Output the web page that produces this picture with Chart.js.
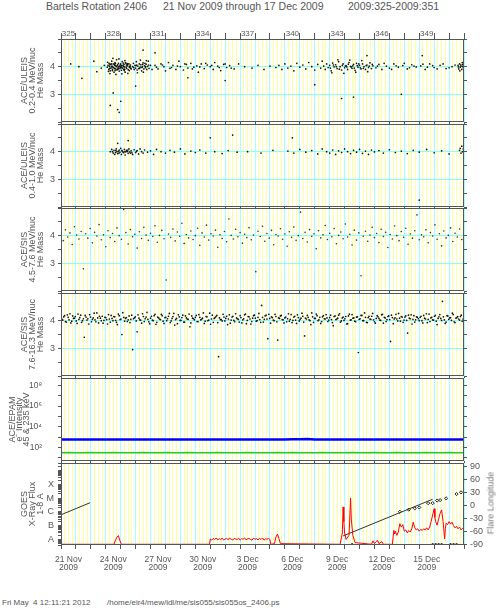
<!DOCTYPE html>
<html>
<head>
<meta charset="utf-8">
<script src="https://cdn.jsdelivr.net/npm/chart.js@4.4.0/dist/chart.umd.min.js"></script>
<style>
  body { margin: 0; background: #fff; }
  #wrap { position: relative; width: 498px; height: 611px; overflow: hidden; font-family: "Liberation Sans", sans-serif; color: #555; }
  #wrap canvas { position: absolute; left: 0; }
  .txt { position: absolute; white-space: pre; line-height: 1; }
</style>
</head>
<body>
<div id="wrap">
  <div class="txt" style="left:46px;top:1px;font-size:10.5px">Bartels Rotation 2406</div>
  <div class="txt" style="left:163px;top:1px;font-size:10.5px">21 Nov 2009 through 17 Dec 2009</div>
  <div class="txt" style="left:348px;top:1px;font-size:10.5px">2009:325-2009:351</div>

  <canvas id="c1" width="498" height="107" style="top:20px"></canvas>
  <canvas id="c2" width="498" height="92" style="top:120px"></canvas>
  <canvas id="c3" width="498" height="92" style="top:204px"></canvas>
  <canvas id="c4" width="498" height="92" style="top:289px"></canvas>
  <canvas id="c5" width="498" height="92" style="top:374px"></canvas>
  <canvas id="c6" width="498" height="117" style="top:458px"></canvas>

  <div class="txt" style="left:491px;top:503px;font-size:9px;color:#777;transform:translate(-50%,-50%) rotate(-90deg)">Flare Longitude</div>

  <div class="txt" style="left:2px;top:599px;font-size:8px">Fri May  4 12:11:21 2012</div>
  <div class="txt" style="left:107px;top:599px;font-size:8px">/home/eir4/mew/idl/me/sis055/sis055os_2406.ps</div>
</div>

<script>
//tick labels
var labelDays = [325.5, 328.5, 331.5, 334.5, 337.5, 340.5, 343.5, 346.5, 349.5];
var doyLabels = ['325', '328', '331', '334', '337', '340', '343', '346', '349'];
var dateLabels = ['21 Nov', '24 Nov', '27 Nov', '30 Nov', '3 Dec', '6 Dec', '9 Dec', '12 Dec', '15 Dec'];
var yearLabel = '2009';
var goesLetters = {'-8': 'A', '-7': 'B', '-6': 'C', '-5': 'M', '-4': 'X'};
var epamLabels = {'2': '10\u00b2', '4': '10\u2074', '6': '10\u2076', '8': '10\u2078'};

//panel titles
var titleP1 = ['ACE/ULEIS', '0.2-0.4 MeV/nuc', 'He Mass'];
var titleP2 = ['ACE/ULEIS', '0.4-1.0 MeV/nuc', 'He Mass'];
var titleP3 = ['ACE/SIS', '4.5-7.6 MeV/nuc', 'He Mass'];
var titleP4 = ['ACE/SIS', '7.6-16.3 MeV/nuc', 'He Mass'];
var titleP5 = ['ACE/EPAM', 'e\u207b Intensity', '45 & 235 keV'];
var titleP6 = ['GOES', 'X-Ray Flux', '1-8 A'];

//ULEIS 0.2-0.4 MeV/nuc [day, mass]
var uleisLow = [
  [325.65,4.10],[326.2,4.0],[326.4,3.58],[327.4,3.82],[327.7,3.95],[327.9,4.05],[327.2,4.2],
  [328.1,3.98],[328.15,4.05],[328.2,3.9],[328.22,4.12],[328.25,4.0],[328.3,3.85],[328.32,4.08],[328.35,3.95],
  [328.4,4.2],[328.42,4.02],[328.45,3.9],[328.5,4.1],[328.52,3.97],[328.55,3.8],[328.6,4.05],[328.62,4.15],
  [328.65,3.92],[328.7,4.0],[328.72,4.25],[328.75,3.88],[328.8,4.07],[328.82,3.96],[328.85,4.12],[328.9,3.84],
  [328.92,4.02],[328.95,3.93],[329.0,4.1],[329.02,4.0],[329.05,3.87],[329.1,4.18],[329.12,3.95],[329.15,4.05],
  [329.2,3.9],[329.22,4.08],[329.25,3.99],[329.3,3.8],[329.35,4.12],[329.4,3.94],[329.45,4.03],[329.5,3.89],
  [329.55,4.1],[329.6,3.97],[329.65,4.06],[329.7,3.92],[328.28,3.75],[328.48,4.3],[328.68,3.72],[328.88,4.28],
  [329.08,3.74],[329.28,4.22],[329.48,3.76],[328.38,4.0],[328.58,3.94],[328.78,4.03],[328.98,3.98],[329.18,4.01],
  [329.38,4.06],[329.58,3.86],[328.18,3.83],[328.62,3.86],[329.32,4.15],
  [328.12,4.16],[328.27,3.93],[328.37,4.1],[328.47,3.99],[328.57,4.09],[328.67,4.04],[328.77,3.91],[328.87,3.99],
  [328.97,4.07],[329.07,3.96],[329.17,4.13],[329.27,3.91],[329.37,3.98],[329.47,4.11],[329.57,4.0],[329.67,3.95],
  [328.24,4.06],[328.44,3.86],[328.64,4.11],[328.84,3.92],[329.04,4.04],[329.24,3.86],[329.44,4.08],[329.64,4.02],
  [329.8,4.0],[329.85,4.12],[329.9,3.9],[329.95,4.05],[330.0,3.95],[330.05,4.18],[330.1,3.88],[330.15,4.02],
  [330.2,3.93],[330.25,4.1],[330.3,3.98],[330.35,4.07],[330.4,3.85],[330.45,4.0],[330.5,4.14],[330.55,3.92],
  [330.6,4.03],[330.65,3.96],[330.7,4.09],[330.75,3.9],[330.8,4.01],[330.85,4.2],[330.9,3.94],[331.0,4.05],
  [331.1,3.9],[330.12,3.78],[330.32,4.24],[330.52,3.8],[330.72,4.22],[330.02,4.04],[330.42,3.97],[330.62,4.12],
  [329.87,3.97],[330.07,4.06],[330.27,3.94],[330.47,4.08],[330.67,4.0],[330.87,4.06],
  [331.3,4.05],[331.5,3.92],[331.7,4.1],[331.9,4.0],[332.0,3.85],[332.2,4.15],[332.4,3.97],[332.5,4.05],
  [332.7,3.9],[332.9,4.2],[333.0,4.0],[333.2,3.88],[333.4,4.08],[333.5,3.95],[333.7,4.12],[333.9,3.98],
  [334.1,4.03],[334.2,3.8],[334.4,4.1],[334.6,3.93],[334.8,4.06],[335.0,4.0],[335.2,3.9],[335.3,4.15],
  [335.5,4.02],[335.7,3.86],[335.9,4.08],[336.1,3.97],[336.3,4.04],[336.6,3.92],[336.9,4.1],
  [331.4,3.98],[331.8,4.06],[332.3,3.94],[332.8,4.02],[333.3,4.1],[333.8,3.92],[334.3,3.99],[334.7,4.12],
  [335.1,4.05],[335.6,3.97],[336.0,4.1],[336.4,3.95],
  [337.3,4.0],[337.8,3.95],[338.2,4.05],[338.6,3.9],[339.0,4.02],[339.4,3.97],
  [339.6,4.05],[339.8,3.9],[340.0,4.1],[340.2,3.95],[340.4,4.02],[340.6,3.85],[340.8,4.12],[341.0,3.98],
  [341.2,4.06],[341.4,3.92],[341.6,4.15],[341.8,4.0],[342.0,3.88],[342.2,4.08],[342.4,3.95],[342.5,4.2],
  [342.6,4.02],[342.7,3.9],[342.8,4.1],[342.9,3.97],[343.0,4.05],[343.1,3.85],[343.2,4.13],[343.3,3.99],
  [343.4,4.07],[343.5,3.93],[343.6,4.18],[343.7,4.0],[343.8,3.88],[343.9,4.1],[344.0,3.96],[344.1,4.04],
  [344.2,3.9],[344.3,4.15],[344.4,4.01],[344.5,3.94],[344.6,4.08],[344.7,3.87],[344.8,4.12],[344.9,3.98],
  [345.0,4.05],[345.1,3.92],[345.2,4.1],[345.3,4.0],[345.4,3.9],[345.5,4.06],[345.6,3.97],[345.7,4.14],
  [345.8,3.93],[345.9,4.03],[343.15,3.78],[343.55,4.25],[343.95,3.76],[344.35,4.24],[344.75,3.8],[345.15,4.22],
  [345.55,3.82],[344.05,4.02],[344.45,3.99],[344.85,4.04],
  [343.05,3.95],[343.25,4.06],[343.45,4.0],[343.65,3.91],[343.85,4.05],[344.15,3.99],[344.25,4.09],[344.55,4.03],
  [344.65,3.95],[344.95,4.1],[345.05,3.96],[345.25,3.94],[345.45,4.04],[345.65,4.02],[345.85,4.08],
  [346.1,3.96],[346.3,4.08],[346.5,3.9],[346.8,4.02],[347.0,3.95],[347.3,4.1],[347.6,3.98],[347.9,4.04],
  [348.2,3.92],[348.5,4.07],[348.8,3.99],[349.1,4.03],[349.4,3.9],[349.7,4.1],[350.0,3.97],[350.4,4.05],
  [350.8,3.93],[351.2,4.0],[346.2,4.02],[346.65,4.12],[347.15,3.9],[347.45,4.03],[348.0,4.12],[348.35,3.96],
  [348.65,4.02],[349.25,4.09],[349.55,3.98],[349.9,4.04],[350.2,3.92],[350.6,4.1],[351.0,3.96],[351.4,4.06],
  [351.6,4.05],[351.65,3.92],[351.7,4.1],[351.75,3.98],[351.8,4.02],[351.85,3.9],[351.9,4.08],[351.95,3.96],
  [351.72,3.85],[351.88,4.15],[351.62,3.99],[351.78,4.06],[351.92,4.01],
  [328.3,2.6],[328.8,2.45],[329.0,2.75],[328.5,3.05],[328.9,2.35],[330.0,3.3],[330.5,4.6],[331.3,4.5],
  [336.0,3.5],[342.0,3.35],[343.8,2.85],[344.6,2.9],[347.8,3.0],[349.2,4.4],[345.5,4.4],[333.5,3.6]
];

//ULEIS 0.4-1.0 MeV/nuc [day, mass]
var uleisHigh = [
  [328.3,4.0],[328.4,4.08],[328.5,3.95],[328.55,4.05],[328.6,3.9],[328.7,4.1],[328.75,4.0],[328.8,3.93],
  [328.9,4.06],[328.95,3.98],[329.0,4.12],[329.05,3.9],[329.1,4.02],[329.2,3.96],[329.25,4.08],[329.3,3.88],
  [329.35,4.0],[329.4,4.05],[329.5,3.94],[329.55,4.1],[329.6,3.99],[329.7,4.03],[329.8,3.9],[329.9,4.07],
  [330.0,3.97],[330.1,4.04],[330.2,3.92],[330.3,4.1],[330.4,4.0],[330.5,3.95],[330.6,4.06],[330.8,3.98],
  [331.0,4.03],[331.2,3.9],[331.4,4.08],[328.65,3.97],[328.85,4.02],[329.15,3.99],[329.45,4.01],[329.65,3.95],
  [328.45,4.0],[328.68,4.04],[328.88,3.95],[329.08,4.05],[329.28,4.0],[329.48,4.06],[329.75,3.96],[330.05,4.01],
  [331.7,4.0],[332.0,3.95],[332.3,4.05],[332.6,3.98],[333.0,4.1],[333.3,3.92],[333.7,4.02],[334.0,3.97],
  [334.3,4.06],[334.7,3.95],[335.0,4.5],[335.3,4.0],[335.8,3.93],[336.2,4.04],[336.8,3.98],
  [337.5,4.0],[338.4,3.95],[339.2,4.05],
  [340.2,4.02],[340.6,3.95],[341.0,4.08],[341.4,3.98],[341.8,4.04],[342.2,3.92],[342.5,4.1],[342.8,4.0],
  [343.0,3.95],[343.2,4.06],[343.4,3.9],[343.6,4.03],[343.8,3.97],[344.0,4.1],[344.2,4.0],[344.4,3.93],
  [344.6,4.05],[344.8,3.98],[345.0,4.08],[345.2,3.94],[345.4,4.02],[345.6,3.9],[345.8,4.06],[346.0,3.99],
  [346.3,4.04],[346.6,3.95],[347.0,4.07],[347.4,3.97],[347.8,4.02],[348.2,3.93],[348.6,4.05],[349.0,3.98],
  [349.5,4.08],[350.0,3.96],[350.5,4.03],[351.0,3.92],
  [351.7,4.05],[351.75,4.12],[351.8,3.95],[351.85,4.2],[351.9,4.0],[351.95,4.1],
  [329.5,4.4],[328.8,4.3],[336.5,4.6],[349.0,2.25],[340.5,4.5]
];

//SIS 4.5-7.6 MeV/nuc, one sample every sisStep3 days from day 325
var sisStep3 = 0.15;
var sisMass3 = [
  4.05,3.82,4.21,3.95,4.10,3.68,4.32,4.02,3.88,4.15,2.80,4.07,3.91,4.26,3.74,4.12,3.99,4.40,3.85,4.03,
  3.60,4.18,3.93,4.08,3.79,4.28,4.00,3.87,4.95,4.11,3.70,4.22,3.96,4.05,3.55,4.14,3.90,4.30,4.02,3.83,
  4.09,3.97,4.36,3.76,4.01,4.19,3.89,2.40,4.06,3.94,4.24,3.81,4.13,3.98,4.45,3.72,4.04,3.92,4.17,3.86,
  4.00,4.27,3.65,4.10,3.95,4.38,3.84,4.07,3.99,4.20,3.58,4.03,3.90,4.15,3.78,4.60,4.01,3.88,4.23,3.96,
  4.11,3.73,4.05,3.93,4.29,3.85,4.02,2.70,4.16,3.97,4.34,3.80,4.08,3.91,4.19,3.67,4.04,3.99,4.25,3.87,
  4.06,3.62,4.14,3.94,4.31,3.83,4.00,4.85,3.90,4.12,3.77,4.22,3.98,4.07,3.53,4.18,3.92,4.03,4.37,3.86,
  4.09,3.96,4.26,3.71,4.01,4.13,3.89,4.42,3.95,4.05,3.66,4.20,3.84,4.10,2.55,3.98,4.16,3.80,4.02,4.30,
  3.93,4.08,3.75,4.23,3.97,4.12,3.57,4.04,3.88,4.35,4.00,3.82,4.15,3.94,4.27,3.69,4.06,3.91,4.18,4.75,
  3.85,4.03,3.96,4.21,3.74,4.11,3.99,4.39,3.87,4.07,3.63,4.17,3.92,4.01,4.28,3.79,4.09,3.95,4.24,3.86
];

//SIS 7.6-16.3 MeV/nuc, two samples every sisStep4 days from day 325
var sisStep4 = 0.12;
var sisMass4 = [
  4.10,4.02,4.18,3.95,4.12,4.25,3.98,4.08,4.15,3.90,4.05,4.20,4.00,3.40,4.13,4.07,4.22,3.96,4.10,4.03,4.28,3.92,4.09,4.16,4.01,
  4.11,3.88,4.06,4.19,4.00,4.14,3.94,4.24,4.04,3.50,4.12,4.08,3.97,4.17,4.05,2.95,4.10,3.99,4.21,4.03,3.91,4.15,4.07,4.30,3.96,
  4.09,4.02,4.18,3.87,4.13,4.06,4.23,3.98,4.11,4.00,4.16,3.93,4.08,4.26,4.04,3.89,4.14,4.01,4.20,3.95,4.10,4.05,3.78,4.17,4.07,
  4.12,3.97,4.22,4.03,4.09,3.90,4.15,4.00,4.27,4.06,3.94,4.11,4.19,2.70,4.04,3.99,4.13,4.08,3.86,4.21,4.02,4.16,3.96,4.10,4.05,
  4.18,3.92,4.07,4.24,4.01,4.14,3.88,4.09,4.20,3.98,4.12,4.04,4.55,3.95,4.17,4.06,4.23,3.91,4.11,4.00,4.15,3.30,4.08,4.19,4.03,
  4.10,3.96,4.25,4.05,3.93,4.13,4.02,4.21,3.99,4.09,4.16,3.45,4.06,4.12,4.00,4.28,3.94,4.08,4.18,4.03,3.90,4.14,4.07,4.22,3.97,
  4.11,4.04,3.82,4.17,4.06,4.20,3.95,4.10,4.01,4.15,3.89,4.24,4.03,4.09,3.98,4.13,2.85,4.07,4.19,4.00,4.12,3.93,4.16,4.05,4.26,
  3.96,4.08,4.14,4.02,4.21,3.91,4.10,4.04,4.17,3.25,4.11,4.06,4.23,3.99,4.09,4.15,3.94,4.13,4.01,4.20,4.07,3.88,4.18,4.03,4.12,
  4.00,4.16,3.92,4.09,4.25,4.05,3.97,4.12,4.02,4.19,3.86,4.14,4.08,4.70,4.03,3.95,4.17,4.10,4.01,4.22,3.93,4.11,4.06,4.15,3.98
];
var sisMass4b = [
  4.06,4.14,3.97,4.21,4.03,3.92,4.17,4.09,3.99,4.24,4.11,3.94,4.07,4.19,4.02,3.88,4.13,4.05,4.27,3.96,4.10,4.16,4.00,3.91,4.12,
  4.04,4.22,3.95,4.08,4.15,4.01,3.86,4.18,4.06,4.29,3.98,4.11,4.03,3.93,4.20,4.07,4.14,3.60,4.09,4.02,4.25,3.97,4.13,4.05,3.89,
  4.16,4.00,4.23,3.94,4.10,4.04,4.18,3.90,4.12,4.07,4.26,3.99,4.15,3.84,4.08,4.21,4.01,4.11,3.95,4.17,4.06,4.24,3.92,4.09,4.03,
  4.19,3.96,4.12,4.05,4.28,3.98,4.14,4.02,3.87,4.20,4.08,4.15,3.93,4.10,4.04,4.23,3.99,4.16,4.06,3.91,4.13,4.01,4.25,4.07,3.95,
  4.11,4.03,4.21,3.89,4.15,4.06,3.97,4.18,4.09,4.00,4.26,3.94,4.12,4.05,4.20,3.35,4.08,4.14,4.02,4.23,3.96,4.10,4.17,4.04,3.92,
  4.13,4.07,3.98,4.22,4.01,4.16,3.90,4.11,4.05,4.27,3.95,4.09,4.19,4.03,3.86,4.14,4.08,4.24,4.00,4.12,3.97,4.18,4.06,4.10,4.02,
  4.20,3.93,4.15,4.04,4.09,4.25,3.99,4.13,4.07,3.88,4.17,4.02,4.22,4.10,3.96,4.14,4.05,4.19,4.00,4.28,3.94,4.11,4.06,4.16,4.03,
  3.91,4.18,4.08,4.01,4.23,4.12,3.97,4.15,4.04,4.20,3.89,4.10,4.06,4.26,3.98,4.13,4.02,4.17,3.55,4.09,4.21,4.05,3.95,4.14,4.07,
  4.12,4.00,4.19,4.06,3.93,4.24,4.10,4.03,4.16,3.98,4.08,4.22,4.01,4.14,3.90,4.18,4.05,4.11,4.27,3.96,4.09,4.15,4.02,4.20,4.06
];

//EPAM electrons, one value every 0.5 day from day 325
var epamStep = 0.5;
var epam45 = [580,590,575,600,585,595,580,590,600,585,590,575,595,600,590,585,580,595,590,600,585,580,590,595,600,585,590,580,575,590,600,610,620,650,600,590,585,595,600,590,580,595,600,585,590,595,580,590,600,585,595,590,580,590,585];
var epam235 = [32,33,31,32,33,32,31,33,32,32,31,33,32,32,33,31,32,33,32,31,32,33,32,32,31,33,32,32,31,33,32,33,32,31,32,33,32,32,31,33,32,32,33,31,32,33,32,32,31,33,32,32,33,31,32];

//GOES 1-8 A flux [day, W/m2]
var goesFlux = [
  [325.0,4.5e-9],[328.55,4.5e-9],[328.65,9e-9],[328.75,1.5e-8],[328.85,1.9e-8],[328.95,8e-9],[329.05,4.5e-9],[334.95,4.5e-9],
  [335.0,1.1e-8],[335.1,0.9e-8],[335.2,1.2e-8],[335.3,1.0e-8],[335.4,1.3e-8],[335.5,0.95e-8],[335.6,1.15e-8],[335.7,1.0e-8],
  [335.8,1.25e-8],[335.9,0.9e-8],[336.0,1.1e-8],[336.1,1.2e-8],[336.2,0.95e-8],[336.3,1.3e-8],[336.4,1.05e-8],[336.5,0.9e-8],
  [336.6,1.2e-8],[336.7,1.1e-8],[336.8,1.0e-8],[336.9,1.25e-8],[337.0,0.9e-8],[337.1,1.15e-8],[337.2,1.05e-8],[337.3,1.3e-8],
  [337.4,0.95e-8],[337.5,1.1e-8],[337.6,1.2e-8],[337.7,1.0e-8],[337.8,0.9e-8],[337.9,1.25e-8],[338.0,1.05e-8],[338.1,1.15e-8],
  [338.2,0.95e-8],[338.3,1.2e-8],[338.4,1.0e-8],[338.5,1.3e-8],[338.6,0.9e-8],[338.7,1.1e-8],[338.8,1.05e-8],[338.9,1.2e-8],
  [339.0,1.0e-8],[339.05,4.5e-9],[339.3,5e-9],[339.4,1.5e-8],[339.5,2.5e-8],[339.6,1.2e-8],[339.7,5e-9],
  [343.7,4.5e-9],[343.85,3e-8],[343.9,2.3e-6],[343.95,2e-7],[344.0,3e-8],[344.1,1e-8],[344.3,2e-8],[344.4,1e-5],
  [344.45,3e-7],[344.55,2e-8],[344.7,6e-9],[345.8,4.5e-9],[345.9,8e-9],[346.0,5e-9],[346.2,9e-9],[346.3,5e-9],
  [346.5,7e-9],[346.6,4.5e-9],[347.2,4.5e-9],
  [347.3,4.6e-8],[347.35,2.5e-8],[347.4,4e-8],[347.5,2e-8],[347.6,3.5e-8],[347.7,1.4e-7],[347.8,8e-8],[347.9,1.2e-7],
  [348.0,4e-8],[348.1,5e-8],[348.2,3e-8],[348.3,4.5e-8],[348.4,3.5e-8],[348.5,6e-8],[348.6,1.8e-7],[348.7,7e-8],
  [348.8,5e-8],[348.9,6e-8],[349.0,4e-8],[349.1,5.5e-8],[349.2,4.5e-8],[349.3,6e-8],[349.4,5e-8],[349.5,7e-8],
  [349.6,5e-8],[349.7,8e-8],[349.8,2e-7],[349.9,6e-7],[350.0,1.7e-6],[350.05,4e-7],[350.1,2e-7],[350.2,1.1e-7],
  [350.3,3e-7],[350.4,8e-7],[350.5,1.4e-6],[350.6,2e-7],[350.7,1.1e-8],[350.75,6e-8],[350.8,1.5e-7],[350.9,1.2e-7],
  [351.0,2e-7],[351.1,1.3e-7],[351.2,1.8e-7],[351.3,1e-7],[351.4,7e-8],[351.5,9e-8],[351.6,6e-8],[351.7,8e-8],
  [351.8,5e-8],[351.9,6.5e-8],[352.0,5e-8]
];

//active region longitude tracks [day, deg]
var lonTrack1 = [[325.0,-22],[326.95,6]];
var lonTrack2 = [[343.9,-71],[349.9,14]];
//flares with a known longitude [day, deg]
var flareLon = [[347.7,-15],[348.3,-10],[348.7,-7],[349.0,-5],[349.6,5],[349.9,5],[350.2,11],[350.4,12],[350.8,16],[351.5,26],[351.8,30]];
//flares without a longitude, drawn at -90
var flareNoLon = [[344.5,-90],[349.9,-90],[350.1,-90],[350.3,-90],[350.5,-90],[351.1,-90],[351.3,-90],[351.5,-90]];

//stil
var fontFam = '"Liberation Sans", sans-serif';
var textGray = '#555';
var axisGray = '#555';
var yellow = '#ffff9c';
var cyanV = '#a8ffff';
var cyanH = '#8ff';
var clear = 'rgba(0,0,0,0)';

//tick lists for the axes
var quarterTicks = [];
for (var q = 325; q <= 352; q += 0.25) quarterTicks.push(q);
var topTicks = [];
for (var d = 325; d <= 352; d++) topTicks.push(d);
topTicks = topTicks.concat(labelDays).sort(function (a, b) { return a - b; });
var massTicks = [2, 2.5, 3, 3.5, 4, 4.5, 5];
var epamTicks = [10, 100, 1e3, 1e4, 1e5, 1e6, 1e7, 1e8];
var goesTicks = [];
for (var e = -9; e <= -3; e++)
    for (var m = 1; m <= 9; m++) {
        var v = m * Math.pow(10, e);
        if (v >= 4e-9 && v <= 3.5e-3) goesTicks.push(v);
    }
var lonTicks = [-90, -60, -30, 0, 30, 60, 90];

function toTicks(list) {
    return function (s) { s.ticks = list.map(function (v) { return {value: v}; }); };
}
//fixed axis sizes, and no extra room asked for the edge labels
function noPad(s) { s.paddingTop = 0; s.paddingBottom = 0; s.paddingLeft = 0; s.paddingRight = 0; }
function fixWidth(w) { return function (s) { s.width = w; noPad(s); }; }
function fixHeight(h) { return function (s) { s.height = h; noPad(s); }; }
function xy(pairs) { return pairs.map(function (p) { return {x: p[0], y: p[1]}; }); }
function series(start, step, vals) {
    return vals.map(function (v, i) { return {x: start + i * step, y: v}; });
}
function decade(v) {
    var l = Math.log10(v), r = Math.round(l);
    return Math.abs(l - r) < 1e-6 ? r : null;
}

//time axis with the 6 hour stripes
function timeAxis(showDates, h) {
    return {
        type: 'linear', min: 325, max: 352, position: 'bottom',
        afterBuildTicks: toTicks(quarterTicks),
        afterFit: fixHeight(h),
        border: {display: false},
        grid: {
            color: function (c) { return c.tick && c.tick.value % 1 === 0 ? cyanV : yellow; },
            tickColor: function (c) { return c.tick && c.tick.value % 1 === 0 ? axisGray : clear; },
            tickLength: 4, lineWidth: 1
        },
        ticks: {
            display: showDates, autoSkip: false, maxRotation: 0, padding: 6, color: textGray,
            font: {family: fontFam, size: 8.5, lineHeight: 1},
            callback: function (v) {
                var i = labelDays.indexOf(v);
                return i < 0 ? '' : [dateLabels[i], yearLabel];
            }
        }
    };
}

function leftAxis(o) {
    return {
        type: o.type, min: o.min, max: o.max, position: 'left',
        afterBuildTicks: toTicks(o.ticks),
        afterFit: fixWidth(61),
        border: {display: false},
        grid: {color: o.gridColor || clear, tickColor: axisGray, tickLength: 3},
        ticks: {autoSkip: false, color: textGray, padding: o.pad, font: {family: fontFam, size: o.tickSize || 9}, callback: o.label},
        title: {
            display: true, text: o.title, color: textGray,
            font: {family: fontFam, size: 9, lineHeight: o.titleLine || '8px'},
            padding: {top: o.titlePad, bottom: 0}
        }
    };
}

function mirrorAxis(type, min, max, ticks) {
    return {
        type: type, min: min, max: max, position: 'right',
        afterBuildTicks: toTicks(ticks),
        afterFit: fixWidth(34),
        border: {display: false},
        grid: {drawOnChartArea: false, tickColor: axisGray, tickLength: 3},
        ticks: {display: false}
    };
}

//box round each panel
var framePlugin = {
    id: 'frame',
    afterDraw: function (chart) {
        var a = chart.chartArea, ctx = chart.ctx;
        ctx.save();
        ctx.strokeStyle = axisGray;
        ctx.lineWidth = 1;
        ctx.strokeRect(a.left + 0.5, a.top + 0.5, a.right - a.left - 1, a.bottom - a.top - 1);
        ctx.restore();
    }
};

function makeChart(id, datasets, scales, padTop) {
    return new Chart(document.getElementById(id), {
        type: 'scatter',
        data: {datasets: datasets},
        options: {
            responsive: false, animation: false, devicePixelRatio: 1, events: [],
            layout: {padding: {top: padTop, left: 0, right: 0, bottom: 0}},
            plugins: {legend: {display: false}, tooltip: {enabled: false}},
            scales: scales
        },
        plugins: [framePlugin]
    });
}

function dots(points, r, col) {
    return {data: points, pointRadius: r, backgroundColor: col || '#222', borderWidth: 0};
}

function massScales(title, h) {
    return {
        x: timeAxis(false, h),
        y: leftAxis({
            type: 'linear', min: 2, max: 5, ticks: massTicks, pad: 3, title: title, titlePad: 21,
            gridColor: function (c) { return c.tick && (c.tick.value === 3 || c.tick.value === 4) ? cyanH : clear; },
            label: function (v) { return v === 3 || v === 4 ? String(v) : ''; }
        }),
        yr: mirrorAxis('linear', 2, 5, massTicks)
    };
}

//panel 1 with the day of year axis on top
var s1 = massScales(titleP1, 5);
s1.xt = {
    type: 'linear', min: 325, max: 352, position: 'top',
    afterBuildTicks: toTicks(topTicks),
    afterFit: fixHeight(19),
    border: {display: false},
    grid: {
        drawOnChartArea: false, tickLength: 6,
        tickColor: function (c) { return c.tick && c.tick.value % 1 === 0 ? axisGray : clear; }
    },
    ticks: {
        autoSkip: false, maxRotation: 0, padding: -5, color: textGray,
        font: {family: fontFam, size: 8, lineHeight: 1},
        callback: function (v) { var i = labelDays.indexOf(v); return i < 0 ? '' : doyLabels[i]; }
    }
};
makeChart('c1', [dots(xy(uleisLow), 0.85, '#111')], s1, 0);
makeChart('c2', [dots(xy(uleisHigh), 0.85, '#111')], massScales(titleP2, 5), 4);
makeChart('c3', [dots(series(325, sisStep3, sisMass3), 0.8, '#333')], massScales(titleP3, 5), 4);
makeChart('c4', [
    dots(series(325, sisStep4, sisMass4), 0.85, '#111'),
    dots(series(325 + sisStep4 / 2, sisStep4, sisMass4b), 0.85, '#111')
], massScales(titleP4, 5), 4);

//panel 5 electrons
makeChart('c5', [
    {data: series(325, epamStep, epam45), showLine: true, borderColor: '#0000ff', borderWidth: 2.5, pointRadius: 0},
    {data: series(325, epamStep, epam235), showLine: true, borderColor: '#22cc22', borderWidth: 1.5, pointRadius: 0}
], {
    x: timeAxis(false, 5),
    y: leftAxis({
        type: 'logarithmic', min: 5, max: 5e8, ticks: epamTicks, pad: 16, tickSize: 8.5,
        title: titleP5, titlePad: 9, titleLine: '7px',
        label: function (v) { var k = decade(v); return k !== null && epamLabels[k] ? epamLabels[k] : ''; }
    }),
    yr: mirrorAxis('logarithmic', 5, 5e8, epamTicks)
}, 4);

//panel 6 GOES and flare longitude
makeChart('c6', [
    {data: xy(goesFlux), showLine: true, borderColor: '#ff0000', borderWidth: 1, pointRadius: 0},
    {data: xy(lonTrack1), yAxisID: 'lon', showLine: true, borderColor: '#333', borderWidth: 1, pointRadius: 0},
    {data: xy(lonTrack2), yAxisID: 'lon', showLine: true, borderColor: '#333', borderWidth: 1, pointRadius: 0},
    {data: xy(flareLon), yAxisID: 'lon', pointStyle: 'rectRot', pointRadius: 1.6, borderColor: '#222', borderWidth: 1, backgroundColor: clear},
    {data: xy(flareNoLon), yAxisID: 'lon', pointStyle: 'rect', pointRadius: 1.3, borderWidth: 0, backgroundColor: '#111'}
], {
    x: timeAxis(true, 30),
    y: leftAxis({
        type: 'logarithmic', min: 4e-9, max: 3.5e-3, ticks: goesTicks, pad: 4, title: titleP6, titlePad: 21,
        label: function (v) { var k = decade(v); return k !== null && goesLetters[k] ? goesLetters[k] : ''; }
    }),
    lon: {
        type: 'linear', min: -92, max: 98, position: 'right',
        afterBuildTicks: toTicks(lonTicks),
        afterFit: fixWidth(34),
        border: {display: false},
        grid: {drawOnChartArea: false, tickColor: axisGray, tickLength: 3},
        ticks: {autoSkip: false, color: textGray, padding: 3, font: {family: fontFam, size: 9}}
    }
}, 4);
</script>
</body>
</html>
